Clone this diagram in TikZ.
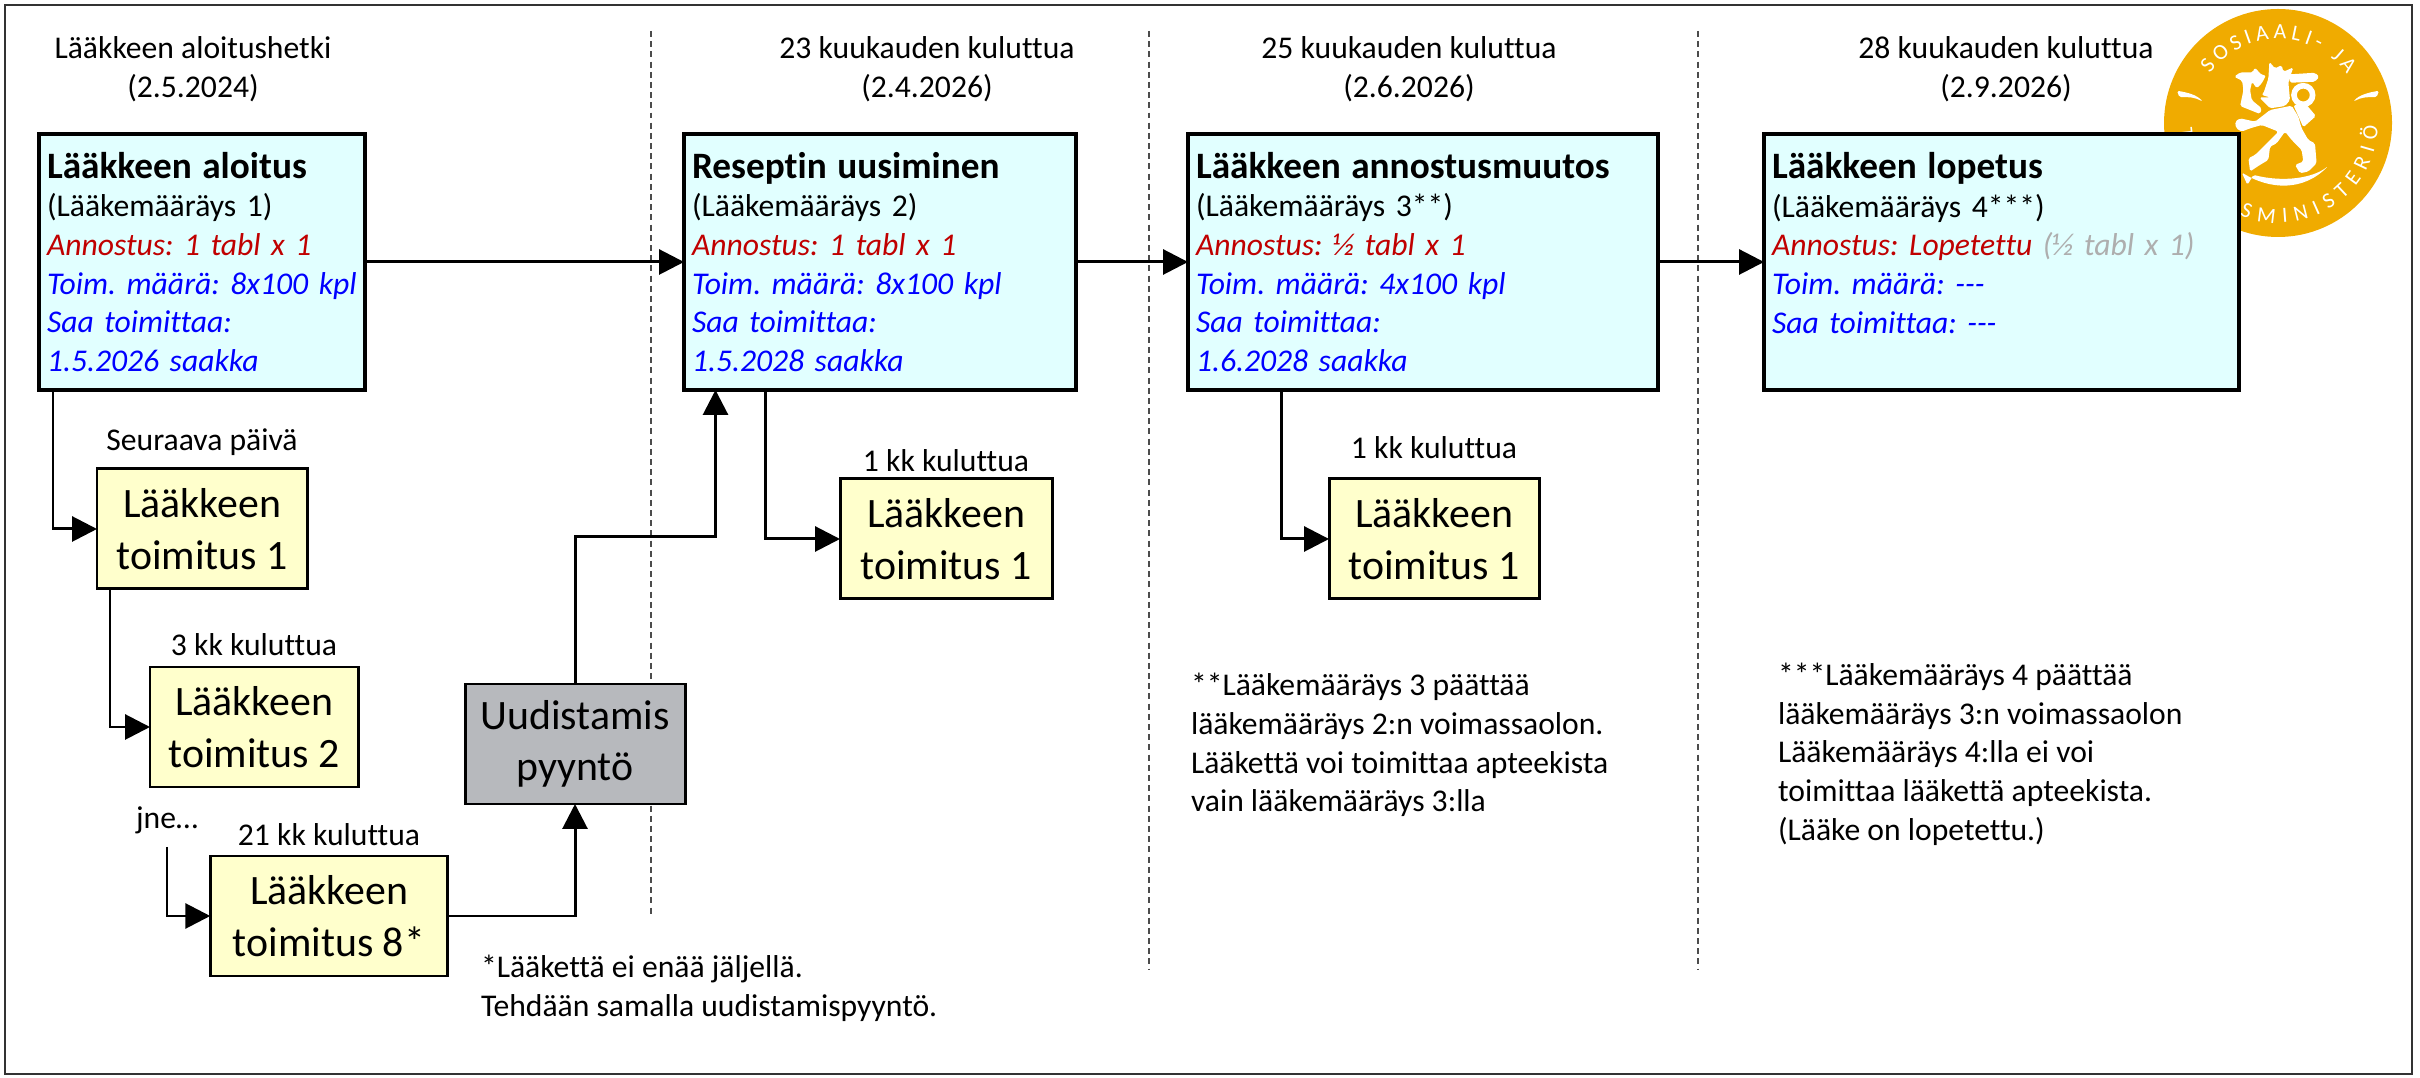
\documentclass[tikz,border=0pt]{standalone}
\usepackage{fontspec}
\setmainfont[Ligatures=NoCommon]{Carlito}
\usetikzlibrary{positioning, arrows.meta, decorations.text}
\definecolor{myfill}{HTML}{E1FFFF}
\definecolor{myyellow}{HTML}{FFFFCC}
\definecolor{mygray}{HTML}{B7B9BD}
\definecolor{myred}{HTML}{C00000}
\definecolor{myblue}{HTML}{0000FF}
\definecolor{mylogo}{HTML}{F0AB00}
\definecolor{myfaded}{HTML}{AEAEAE}
\newcommand{\dose}[1]{{\color{myred}\itshape #1}}
\newcommand{\info}[1]{{\color{myblue}\itshape #1}}
\newcommand{\boxtitle}[1]{{\fontsize{10.6}{11}\selectfont\bfseries #1}}
\frenchspacing

\begin{document}
\begin{tikzpicture}[font=\fontsize{9}{11}\selectfont, outer sep=0pt, line width=0.85pt]
  \tikzstyle{drug}=[rectangle,draw,line width=1.1pt,fill=myfill,align=left,inner xsep=0.08cm,inner ysep=0pt,minimum height=2.56cm]
  \tikzstyle{deliv}=[rectangle,draw,fill=myyellow,align=center,inner sep=0pt,minimum height=1.2cm,font=\fontsize{11.9}{14.7}\selectfont]
  \tikzstyle{request}=[deliv,fill=mygray,minimum width=2.2cm]
  \tikzstyle{head}=[align=center,inner sep=0pt]
  \tikzstyle{note}=[align=left,inner sep=0pt]
  \tikzstyle{link}=[-{Triangle[length=0.25cm,width=0.25cm]}]
  \tikzstyle{sep}=[dash pattern=on 1.7pt off 1.2pt,line width=0.45pt,black!70]
  \tikzstyle{logotext}=[decorate,decoration={text along path,text align=fit to path,text={|\fontsize{6.2}{6.2}\selectfont\color{white}|#1}}]
  \useasboundingbox (0,0) rectangle (24.2,10.77);
  \draw[line width=0.6pt,black!80] (0.05,0.03) rectangle (24.12,10.72);

  % separators
  \foreach \x/\y in {6.51/1.61,11.49/1.07,16.98/1.07}
    \draw[sep] (\x,10.46) -- (\x,\y);

  % logo
  \begin{scope}[shift={(22.78,9.54)}]
    \fill[mylogo] (0,0) circle (1.14);
    \path[logotext=SOSIAALI- JA] (144:0.84) arc (144:35:0.84);
    \path[logotext=TERVEYSMINISTERIÖ] (183:1.0) arc (183:358:1.0);
    \begin{scope}[x=0.00333cm,y=-0.00333cm,shift={(-354,-249)},rounded corners=0.5pt]
      \fill[white] (50,152) .. controls (85,158) and (110,165) .. (128,185) .. controls (105,172) and (85,170) .. (58,172) -- cycle;
      \fill[white] (658,152) .. controls (623,158) and (598,165) .. (580,185) .. controls (603,172) and (623,170) .. (650,172) -- cycle;
      % lion
      \fill[white] (222,110) -- (240,97) -- (278,97) -- (284,82) -- (305,105) -- (318,105) -- (305,130) -- (290,145) -- (276,125) -- (270,150) -- (275,180) -- (305,205) -- (300,222) -- (240,198) -- (250,150) -- (246,122) -- cycle;
      \fill[white] (310,160) -- (325,115) -- (328,65) -- (345,85) -- (365,75) -- (370,95) -- (400,82) -- (385,125) -- (390,180) -- (375,198) -- (330,205) -- (298,172) -- (330,172) -- (305,165) -- cycle;
      \fill[white] (385,103) -- (465,98) -- (478,110) -- (465,125) -- (390,128) -- cycle;
      \draw[white,line width=1.6pt] (430,165) circle (28);
      \fill[white] (400,195) -- (440,195) -- (468,228) -- (430,262) -- (418,235) -- cycle;
      \fill[white] (225,245) -- (240,235) -- (285,245) -- (330,210) -- (395,197) -- (415,230) -- (425,265) -- (445,300) -- (465,310) -- (470,370) -- (445,395) -- (420,400) -- (405,375) -- (430,365) -- (425,330) -- (395,300) -- (375,275) -- (350,310) -- (330,320) -- (325,360) -- (295,378) -- (270,395) -- (265,355) -- (285,345) -- (320,310) -- (355,275) -- (305,255) -- (270,265) -- (245,275) -- (228,265) -- cycle;
      \fill[white] (245,398) .. controls (330,450) and (430,455) .. (505,378) .. controls (460,415) and (370,428) .. (280,405) -- (262,435) -- cycle;
    \end{scope}
  \end{scope}

  % prescriptions
  \node[drug,text width=3.1cm] (b1) at (2.02,8.15) {\boxtitle{Lääkkeen aloitus}\\(Lääkemääräys 1)\\\dose{Annostus: 1 tabl x 1}\\\info{Toim. määrä: 8x100 kpl}\\\info{Saa toimittaa:}\\\info{1.5.2026 saakka}};
  \node[drug,text width=3.76cm] (b2) [right=3.19cm of b1] {\boxtitle{Reseptin uusiminen}\\(Lääkemääräys 2)\\\dose{Annostus: 1 tabl x 1}\\\info{Toim. määrä: 8x100 kpl}\\\info{Saa toimittaa:}\\\info{1.5.2028 saakka}};
  \node[drug,text width=4.54cm] (b3) [right=1.12cm of b2] {\boxtitle{Lääkkeen annostusmuutos}\\(Lääkemääräys 3**)\\\dose{Annostus: ½ tabl x 1}\\\info{Toim. määrä: 4x100 kpl}\\\info{Saa toimittaa:}\\\info{1.6.2028 saakka}};
  \node[drug,text width=4.59cm] (b4) [right=1.06cm of b3] {\boxtitle{Lääkkeen lopetus}\\(Lääkemääräys 4***)\\\dose{Annostus: Lopetettu} {\color{myfaded}\itshape (½ tabl x 1)}\\\info{Toim. määrä: -{}-{}-}\\\info{Saa toimittaa: -{}-{}-}\\\mbox{}};

  % deliveries
  \node[deliv,minimum width=2.1cm] (y1) [below=0.79cm of b1] {Lääkkeen\\toimitus 1};
  \node[deliv,minimum width=2.08cm] (y2) [below right=0.78cm and -1.57cm of y1] {Lääkkeen\\toimitus 2};
  \node[deliv,minimum width=2.375cm] (y3) at (3.29,1.61) {Lääkkeen\\toimitus 8*};
  \node[request] (req) at (5.75,3.33) {Uudistamis\\pyyntö};
  \node[deliv,minimum width=2.12cm] (y4) [below right=0.89cm and -2.36cm of b2] {Lääkkeen\\toimitus 1};
  \node[deliv,minimum width=2.1cm] (y5) [below right=0.89cm and -3.29cm of b3] {Lääkkeen\\toimitus 1};
  \node[inner sep=0pt,minimum height=0.54cm] (jne) at (1.67,2.57) {jne…};

  % headings
  \node[head] (h1) at (1.93,10.08) {Lääkkeen aloitushetki\\(2.5.2024)};
  \node[head] (h2) at (9.27,10.08) {23 kuukauden kuluttua\\(2.4.2026)};
  \node[head] (h3) at (14.09,10.08) {25 kuukauden kuluttua\\(2.6.2026)};
  \node[head] (h4) at (20.06,10.08) {28 kuukauden kuluttua\\(2.9.2026)};

  \node[head] (t1) [above=0.13cm of y1] {Seuraava päivä};
  \node[head] (t2) [above=0.11cm of y2] {3 kk kuluttua};
  \node[head] (t3) [above=0.1cm of y3] {21 kk kuluttua};
  \node[head] (t4) [above=0.07cm of y4] {1 kk kuluttua};
  \node[head] (t5) [above=0.2cm of y5] {1 kk kuluttua};

  % notes
  \node[note,anchor=west] (n1) at (4.81,0.89) {*Lääkettä ei enää jäljellä.\\Tehdään samalla uudistamispyyntö.};
  \node[note,anchor=west] (n2) at (11.91,3.32) {**Lääkemääräys 3 päättää\\lääkemääräys 2:n voimassaolon.\\Lääkettä voi toimittaa apteekista\\vain lääkemääräys 3:lla};
  \node[note,anchor=west] (n3) at (17.78,3.23) {***Lääkemääräys 4 päättää\\lääkemääräys 3:n voimassaolon\\Lääkemääräys 4:lla ei voi\\toimittaa lääkettä apteekista.\\(Lääke on lopetettu.)};

  % connectors
  \coordinate (turn) at (7.155,5.40);
  \draw[link] (b1) -- (b2);
  \draw[link] (b2) -- (b3);
  \draw[link] (b3) -- (b4);
  \draw[link] ([xshift=0.14cm]b1.south west) |- (y1.west);
  \draw[link] ([xshift=0.13cm]y1.south west) |- (y2.west);
  \draw[link] (jne.south) |- (y3.west);
  \draw[link] (y3.east) -| (req.south);
  \draw[link] (req.north) |- (turn) -- (turn |- b2.south);
  \draw[link] ([xshift=0.81cm]b2.south west) |- (y4.west);
  \draw[link] ([xshift=0.93cm]b3.south west) |- (y5.west);
\end{tikzpicture}
\end{document}
